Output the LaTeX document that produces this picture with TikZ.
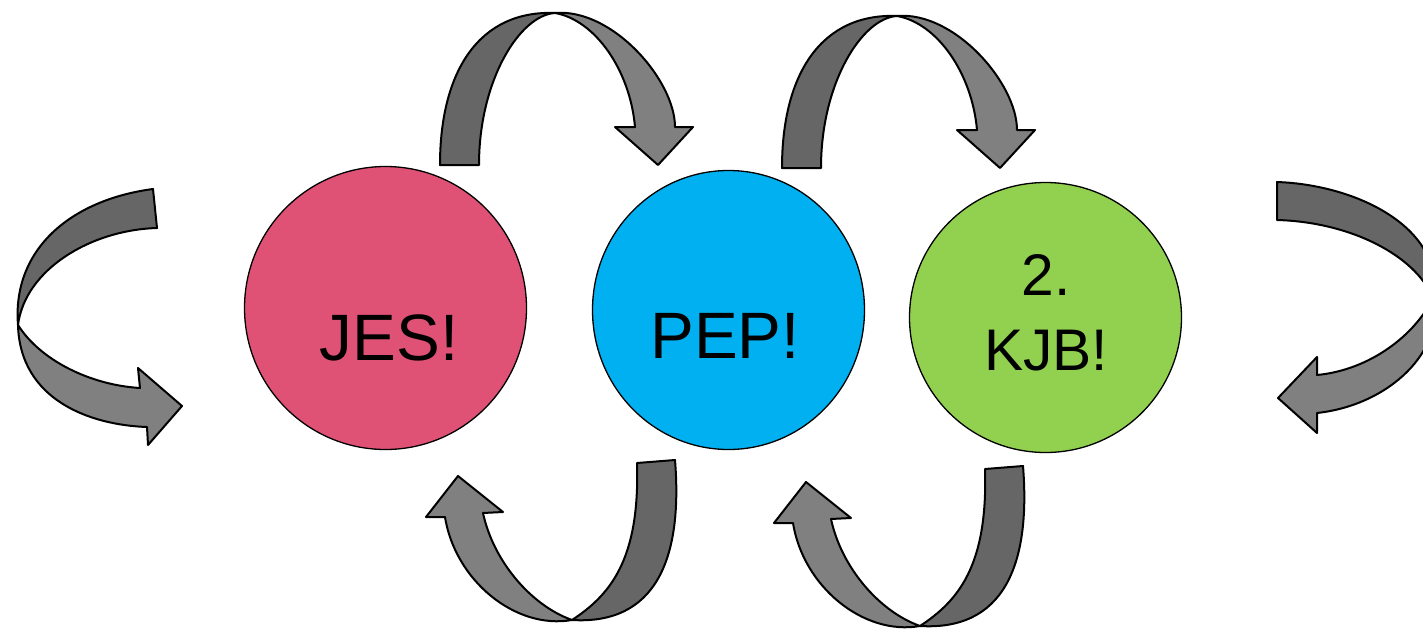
\documentclass[tikz,border=0pt]{standalone}
\usepackage{fontspec}
\setmainfont{Liberation Sans}
\usetikzlibrary{shapes.geometric}
\definecolor{pinkc}{RGB}{224,82,117}
\definecolor{bluec}{RGB}{0,176,240}
\definecolor{greenc}{RGB}{146,208,80}
\definecolor{arrdark}{RGB}{102,102,102}
\definecolor{arrlight}{RGB}{128,128,128}
\begin{document}
\begin{tikzpicture}[x=1pt,y=-1pt,
  band/.style={draw=black,line width=2pt,line join=round},
  darkband/.style={band,fill=arrdark},
  lightband/.style={band,fill=arrlight},
  bubble/.style={ellipse,draw=black,line width=1.3pt,inner sep=0pt},
  biglbl/.style={anchor=base,inner sep=0pt,font=\fontsize{65.6}{75}\selectfont},
  smalllbl/.style={anchor=base,inner sep=0pt,font=\fontsize{58.7}{75}\selectfont}]
\useasboundingbox (0,0) rectangle (1423,629);
\fill[white] (0,0) rectangle (1423,629);
\clip (0,0) rectangle (1423,629);

% circles
\node[bubble, fill=pinkc, minimum width=282pt, minimum height=283pt] (jes) at (385.5,308) {};
\node[bubble, fill=bluec, minimum width=272pt, minimum height=279pt] (pep) at (728.5,310) {};
\node[bubble, fill=greenc, minimum width=272pt, minimum height=270pt] (kjb) at (1045.5,317.5) {};

% labels
\node[biglbl] (jestxt) at (389,360) {JES!};
\node[biglbl] (peptxt) at (725,358.3) {PEP!};
\node[smalllbl] (kjbnum) at (1046,295) {2.};
\node[smalllbl] (kjbtxt) at (1046,370) {KJB!};

% top arrow JES -> PEP
\draw[darkband] (440,165) .. controls (440,70) and (480,10) .. (555,13)
  .. controls (520,15) and (479,80) .. (479,165) -- cycle;
\draw[lightband] (555,13) .. controls (612,8) and (675,80) .. (675,127)
  -- (693,127) -- (658,165) -- (615,127) -- (635,127)
  .. controls (630,70) and (595,20) .. (555,13) -- cycle;

% top arrow PEP -> KJB
\begin{scope}[shift={(342,3)}]
\draw[darkband] (440,165) .. controls (440,70) and (480,10) .. (555,13)
  .. controls (520,15) and (479,80) .. (479,165) -- cycle;
\draw[lightband] (555,13) .. controls (612,8) and (675,80) .. (675,127)
  -- (693,127) -- (658,165) -- (615,127) -- (635,127)
  .. controls (630,70) and (595,20) .. (555,13) -- cycle;
\end{scope}

% bottom arrow PEP -> JES
\draw[darkband] (675,460) .. controls (683,560) and (655,625) .. (572,620)
  .. controls (610,595) and (640,560) .. (637,463) -- cycle;
\draw[lightband] (572,620) .. controls (515,630) and (455,580) .. (445,517)
  -- (426,517) -- (458,476) -- (503,512) -- (483,513)
  .. controls (493,560) and (530,605) .. (572,620) -- cycle;

% bottom arrow KJB -> PEP
\begin{scope}[shift={(348,6)}]
\draw[darkband] (675,460) .. controls (683,560) and (655,625) .. (572,620)
  .. controls (610,595) and (640,560) .. (637,463) -- cycle;
\draw[lightband] (572,620) .. controls (515,630) and (455,580) .. (445,517)
  -- (426,517) -- (458,476) -- (503,512) -- (483,513)
  .. controls (493,560) and (530,605) .. (572,620) -- cycle;
\end{scope}

% left arrow
\draw[darkband] (153,189) .. controls (70,200) and (12,250) .. (18,325)
  .. controls (25,270) and (90,230) .. (157,228) -- cycle;
\draw[lightband] (18,325) .. controls (20,400) and (90,425) .. (147,427)
  -- (148,445) -- (182,406) -- (138,368) -- (140,388)
  .. controls (90,385) and (40,360) .. (18,325) -- cycle;

% right arrow
\draw[darkband] (1277,182) .. controls (1360,185) and (1445,230) .. (1433,298)
  .. controls (1415,255) and (1350,222) .. (1277,220) -- cycle;
\draw[lightband] (1433,298) .. controls (1445,350) and (1390,405) .. (1317,413)
  -- (1317,433) -- (1278,398) -- (1317,357) -- (1317,375)
  .. controls (1370,370) and (1415,335) .. (1433,298) -- cycle;
\end{tikzpicture}
\end{document}
